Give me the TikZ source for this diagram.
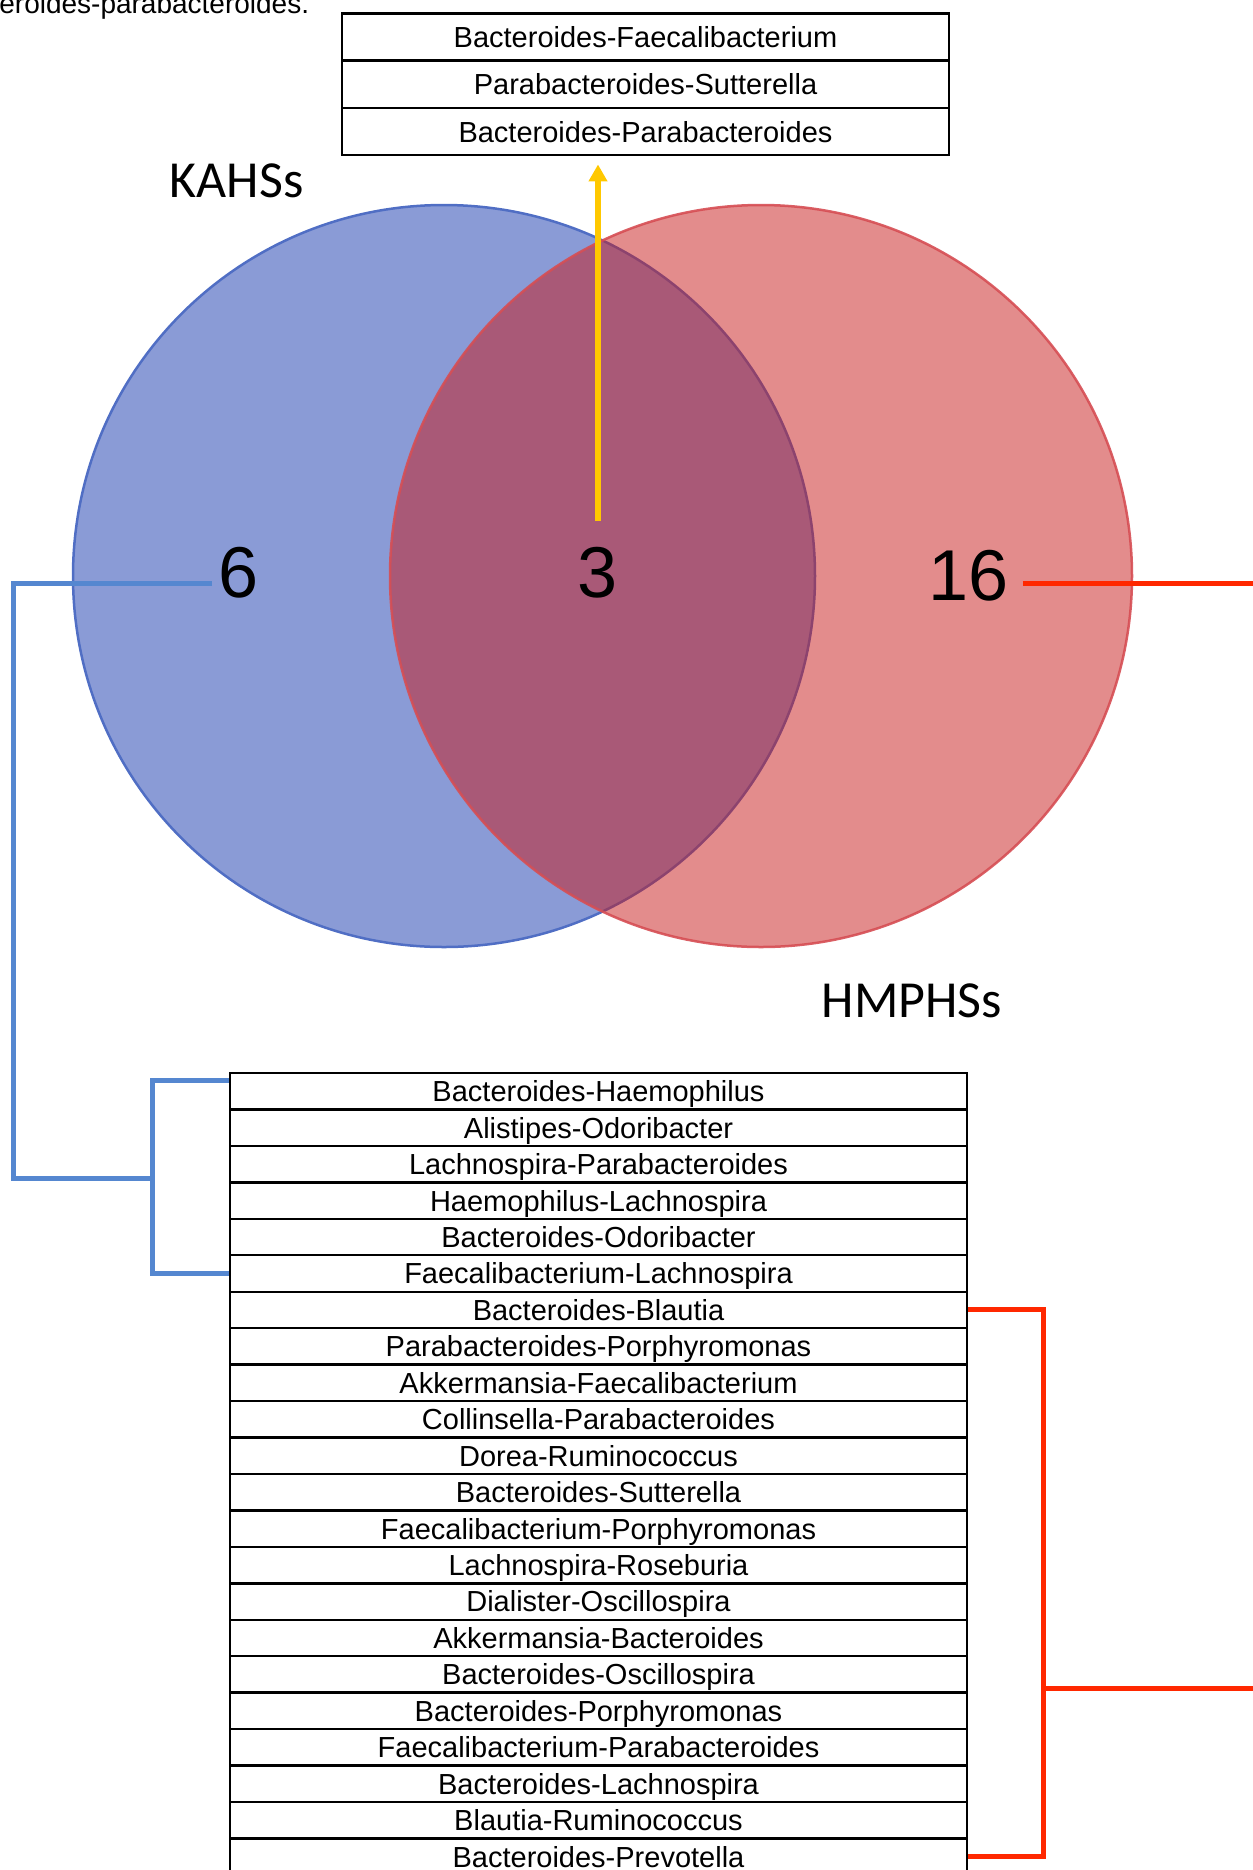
\documentclass[tikz,border=0pt]{standalone}
\usepackage{fontspec}
\setmainfont{Liberation Sans}
\newfontfamily\calib{Carlito}
\usetikzlibrary{arrows.meta}

\definecolor{kblue}{RGB}{138,155,214}
\definecolor{kblueedge}{RGB}{80,110,196}
\definecolor{hred}{RGB}{200,25,25}
\definecolor{hrededge}{RGB}{214,78,84}
\definecolor{linkblue}{RGB}{85,135,208}
\definecolor{linkred}{RGB}{255,40,0}
\definecolor{arrowyellow}{RGB}{255,200,0}

\begin{document}
\begin{tikzpicture}[x=0.5pt, y=-0.5pt,
	toprow/.style={draw, line width=1.2pt, minimum width=303.5pt, minimum height=23.65pt, inner sep=0pt, text height=13.4pt, text depth=3pt, font=\fontsize{14.5pt}{17pt}\selectfont},
	pairrow/.style={draw, line width=1.2pt, minimum width=368.5pt, minimum height=18.225pt, inner sep=0pt, text height=13.4pt, text depth=3pt, font=\fontsize{14.5pt}{17pt}\selectfont},
	setname/.style={anchor=base, inner sep=0pt, font=\calib\fontsize{26pt}{30pt}\selectfont},
	count/.style={anchor=base, inner sep=0pt, font=\fontsize{36pt}{40pt}\selectfont},
	bluelink/.style={draw=linkblue, line width=2.5pt},
	redlink/.style={draw=linkred, line width=2.5pt}]
	\clip (0,0) rectangle (1253,1870);
	
	% the two sets
	\filldraw[fill=kblue, draw=kblueedge, line width=1.25pt] (444,576) circle [radius=185.5pt];
	\filldraw[fill=hred, fill opacity=0.5, draw=hrededge, draw opacity=0.9, line width=1.25pt] (761,576) circle [radius=185.5pt];
	
	\node[anchor=base west, inner sep=0pt, font=\fontsize{14pt}{17pt}\selectfont] (cut) at (-1,13) {eroides-parabacteroides.};
	
	\node[setname] (kahs) at (236.5,197) {KAHSs};
	\node[setname] (hmphs) at (912,1017) {HMPHSs};
	
	\node[count] (six) at (238.5,597) {6};
	\node[count] (three) at (598,597) {3};
	\node[count] (sixteen) at (968.5,600) {16};
	
	% shared pairs
	\node[toprow] (tb1) at (645.5,37) {Bacteroides-Faecalibacterium};
	\node[toprow] (tb2) at (645.5,84.3) {Parabacteroides-Sutterella};
	\node[toprow] (tb3) at (645.5,131.6) {Bacteroides-Parabacteroides};
	
	% pairs of each set
	\foreach \pair [count=\i] in {Bacteroides-Haemophilus, Alistipes-Odoribacter,
		Lachnospira-Parabacteroides, Haemophilus-Lachnospira, Bacteroides-Odoribacter,
		Faecalibacterium-Lachnospira, Bacteroides-Blautia, Parabacteroides-Porphyromonas,
		Akkermansia-Faecalibacterium, Collinsella-Parabacteroides, Dorea-Ruminococcus,
		Bacteroides-Sutterella, Faecalibacterium-Porphyromonas, Lachnospira-Roseburia,
		Dialister-Oscillospira, Akkermansia-Bacteroides, Bacteroides-Oscillospira,
		Bacteroides-Porphyromonas, Faecalibacterium-Parabacteroides, Bacteroides-Lachnospira,
		Blautia-Ruminococcus, Bacteroides-Prevotella}
		\node[pairrow] (k\i) at (598.5,{1054.8+36.45*\i}) {\pair};
	
	\coordinate (kbr) at (152,1178);
	\coordinate (hbr) at (1043,1688);
	
	\draw[-{Triangle[width=9pt,length=8.5pt]}, draw=arrowyellow, fill=arrowyellow, line width=2.75pt, shorten <=12.75pt, shorten >=4pt] (three.north) -- (three.north |- tb3.south);
	
	\draw[bluelink] ([shift={(-3pt,7pt)}]six.base west) -- ++(-199,0) |- (kbr);
	\draw[bluelink] ([yshift=5.5pt]k1.west) -| (kbr) |- (k6.west);
	
	\draw[redlink] ([shift={(7pt,8.5pt)}]sixteen.base east) -- ++(250,0) |- (hbr);
	\draw[redlink] (k7.east) -| (hbr) |- (k22.east);
\end{tikzpicture}
\end{document}
